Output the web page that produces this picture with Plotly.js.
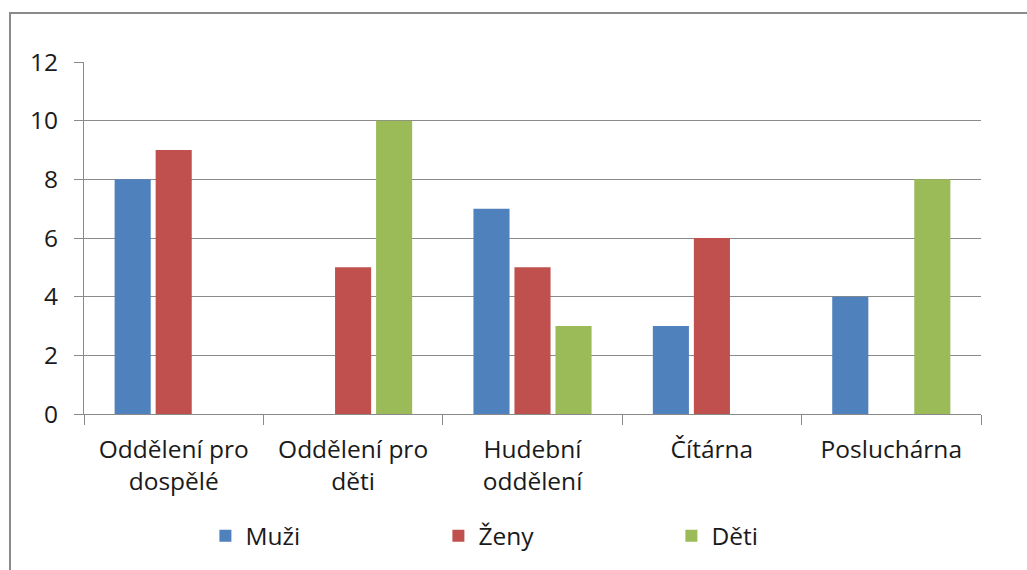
<!DOCTYPE html>
<html>
<head>
<meta charset="utf-8">
<script src="https://cdn.plot.ly/plotly-3.0.1.min.js"></script>
<style>
html,body{margin:0;padding:0;background:#fff;}
#wrap{position:relative;width:1027px;height:570px;overflow:hidden;}
#chart{position:absolute;left:0;top:0;width:1027px;height:570px;}
#frame{position:absolute;left:9px;top:12px;width:1040px;height:600px;border:2px solid #8a8a8a;box-sizing:border-box;pointer-events:none;}
</style>
</head>
<body>
<div id="wrap"><div id="chart"></div><div id="frame"></div></div>
<script>
const categories = ["Oddělení pro<br>dospělé", "Oddělení pro<br>děti", "Hudební<br>oddělení", "Čítárna", "Posluchárna"];
const muzi = [8, 0, 7, 3, 4];
const zeny = [9, 5, 5, 6, 0];
const deti = [0, 10, 3, 0, 8];
const yTicks = [0, 2, 4, 6, 8, 10, 12];

const font = {family: "'Open Sans', sans-serif", size: 24.5, color: "#1a1a1a"};
const traces = [
  {type: "bar", name: "Muži", x: categories, y: muzi, marker: {color: "#4F81BD"}},
  {type: "bar", name: "Ženy", x: categories, y: zeny, marker: {color: "#C0504D"}},
  {type: "bar", name: "Děti", x: categories, y: deti, marker: {color: "#9BBB59"}}
];
const layout = {
  width: 1027, height: 570,
  margin: {l: 84, r: 46, t: 62, b: 156},
  paper_bgcolor: "rgba(0,0,0,0)", plot_bgcolor: "rgba(0,0,0,0)",
  font: font,
  barmode: "group", bargap: 0.314, bargroupgap: 0.12,
  showlegend: true,
  legend: {orientation: "h", xref: "container", yref: "container", x: 0.2, xanchor: "left", y: 0.06, yanchor: "middle",
           entrywidth: 188, entrywidthmode: "pixels", font: font, itemwidth: 30, tracegroupgap: 0},
  xaxis: {type: "category", tickson: "boundaries", ticks: "outside", ticklen: 10,
          tickcolor: "#8a8a8a", showline: true, linecolor: "#8a8a8a", linewidth: 1,
          showgrid: false, tickfont: font, ticklabelstandoff: 14, fixedrange: true},
  yaxis: {range: [0, 12], tickvals: yTicks, ticktext: yTicks.map(String), ticks: "outside", ticklen: 9,
          tickcolor: "#8a8a8a", showline: true, linecolor: "#8a8a8a", linewidth: 1,
          showgrid: true, gridcolor: "#8a8a8a", gridwidth: 1, zeroline: false,
          tickfont: font, ticklabelstandoff: 11, fixedrange: true}
};
Plotly.newPlot("chart", traces, layout, {displayModeBar: false, staticPlot: true});
</script>
</body>
</html>
